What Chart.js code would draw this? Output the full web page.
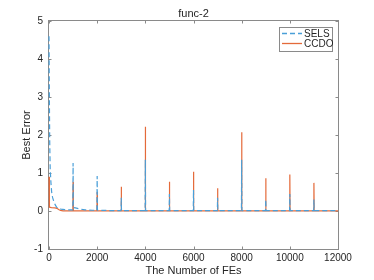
<!DOCTYPE html>
<html>
<head>
<meta charset="utf-8">
<script src="https://cdn.jsdelivr.net/npm/chart.js@4.4.1/dist/chart.umd.min.js"></script>
<style>
html,body{margin:0;padding:0;background:#fff;}
#wrap{width:374px;height:280px;}
</style>
</head>
<body>
<div id="wrap"><canvas id="c" width="374" height="280"></canvas></div>
<script>
const chartTitle = "func-2";
const xAxisTitle = "The Number of FEs";
const yAxisTitle = "Best Error";
const xTicks = [0, 2000, 4000, 6000, 8000, 10000, 12000];
const yTicks = [-1, 0, 1, 2, 3, 4, 5];
const seriesNames = ["SELS", "CCDO"];

const selsX = [0, 15, 30, 50, 80, 110, 150, 200, 260, 320, 400, 500, 650, 800, 990, 1000, 1010, 1100, 1300, 1500, 1800, 1990, 2000, 2010, 2500, 2990, 3000, 3010, 3990, 4000, 4010, 4990, 5000, 5010, 5990, 6000, 6010, 6990, 7000, 7010, 7990, 8000, 8010, 8990, 9000, 9010, 9990, 10000, 10010, 10990, 11000, 11010, 12000];
const selsY = [4.6, 3.0, 1.8, 1.1, 0.75, 0.5, 0.35, 0.25, 0.16, 0.1, 0.07, 0.05, 0.035, 0.03, 0.03, 1.26, 0.09, 0.08, 0.05, 0.03, 0.02, 0.02, 0.92, 0.02, 0.012, 0.01, 0.35, 0.01, 0.01, 1.35, 0.01, 0.01, 0.45, 0.01, 0.01, 0.55, 0.01, 0.01, 0.35, 0.01, 0.01, 1.35, 0.01, 0.01, 0.3, 0.01, 0.01, 0.45, 0.01, 0.01, 0.3, 0.01, 0.01];

const ccdoX = [0, 10, 25, 100, 250, 330, 400, 480, 580, 990, 1000, 1010, 1990, 2000, 2010, 2990, 3000, 3010, 3990, 4000, 4010, 4990, 5000, 5010, 5990, 6000, 6010, 6990, 7000, 7010, 7990, 8000, 8010, 8990, 9000, 9010, 9990, 10000, 10010, 10990, 11000, 11010, 12000];
const ccdoY = [0.9, 0.5, 0.1, 0.09, 0.08, 0.07, 0.04, 0.015, 0.003, 0.003, 0.77, 0.003, 0.002, 0.5, 0.002, 0.002, 0.64, 0.002, 0.002, 2.22, 0.002, 0.002, 0.77, 0.002, 0.002, 1.03, 0.002, 0.002, 0.6, 0.002, 0.002, 2.07, 0.002, 0.002, 0.86, 0.002, 0.002, 0.96, 0.002, 0.002, 0.74, 0.002, 0.002];

const selsColor = "#4a9fd8";
const ccdoColor = "#e46a3a";
const axisColor = "#8a8a8a";
const textColor = "#262626";
const FONT = "'Liberation Sans', Arial, sans-serif";

function toPts(xs, ys){ return xs.map((x,i)=>({x:x, y:ys[i]})); }

const matlabPlugin = {
  id: 'matlab',
  beforeDatasetsDraw(chart){
    const ctx = chart.ctx;
    const a = chart.chartArea;
    const xs = chart.scales.x, ys = chart.scales.y;
    ctx.save();
    ctx.strokeStyle = axisColor;
    ctx.lineWidth = 1;
    const L = Math.round(a.left) - 0.5, R = Math.round(a.right) + 0.5;
    const T = Math.round(a.top) - 0.5, B = Math.round(a.bottom) + 0.5;
    ctx.strokeRect(L, T, R - L, B - T);
    const tl = 3;
    ctx.beginPath();
    xTicks.forEach(v=>{
      const p = Math.round(xs.getPixelForValue(v))+0.5;
      ctx.moveTo(p, B); ctx.lineTo(p, B-tl);
      ctx.moveTo(p, T); ctx.lineTo(p, T+tl);
    });
    yTicks.forEach(v=>{
      const p = Math.round(ys.getPixelForValue(v))+0.5;
      ctx.moveTo(L, p); ctx.lineTo(L+tl, p);
      ctx.moveTo(R, p); ctx.lineTo(R-tl, p);
    });
    ctx.stroke();
    ctx.restore();
  },
  afterDraw(chart){
    const ctx = chart.ctx;
    const a = chart.chartArea;
    ctx.save();
    ctx.fillStyle = textColor;
    ctx.textAlign = 'center';
    ctx.textBaseline = 'middle';
    ctx.font = "11px " + FONT;
    const cx = (a.left + a.right)/2;
    ctx.fillText(chartTitle, cx, 13.5);
    ctx.fillText(xAxisTitle, cx, 270.5);
    ctx.save();
    ctx.translate(27, (a.top+a.bottom)/2);
    ctx.rotate(-Math.PI/2);
    ctx.fillText(yAxisTitle, 0, 0);
    ctx.restore();

    // legend
    const lx = 279.5, ly = 27.5, lw = 53, lh = 24;
    ctx.fillStyle = '#fff';
    ctx.fillRect(lx, ly, lw, lh);
    ctx.strokeStyle = '#8a8a8a';
    ctx.lineWidth = 1;
    ctx.strokeRect(lx, ly, lw, lh);
    ctx.font = "10px " + FONT;
    ctx.textAlign = 'left';
    const cols = [selsColor, ccdoColor];
    const dashes = [[5,3], []];
    seriesNames.forEach((name, i)=>{
      const yy = 33.5 + i*10;
      ctx.strokeStyle = cols[i];
      ctx.lineWidth = 1.3;
      ctx.setLineDash(dashes[i]);
      ctx.beginPath();
      ctx.moveTo(282, yy); ctx.lineTo(302, yy);
      ctx.stroke();
      ctx.setLineDash([]);
      ctx.fillStyle = textColor;
      ctx.fillText(name, 304, yy+0.5);
    });
    ctx.restore();
  }
};

new Chart(document.getElementById('c'), {
  type: 'line',
  data: {
    datasets: [
      { label: seriesNames[0], data: toPts(selsX, selsY), borderColor: selsColor, borderWidth: 1.2, borderDash: [5,3], pointRadius: 0, tension: 0, fill: false, clip: 3 },
      { label: seriesNames[1], data: toPts(ccdoX, ccdoY), borderColor: ccdoColor, borderWidth: 1.2, pointRadius: 0, tension: 0, fill: false, clip: 3 }
    ]
  },
  options: {
    responsive: false,
    animation: false,
    devicePixelRatio: 1,
    layout: { padding: { left: 0, right: 36, top: 21, bottom: 0 } },
    plugins: { legend: { display: false }, title: { display: false }, tooltip: { enabled: false } },
    scales: {
      x: {
        type: 'linear', min: 0, max: 12000,
        afterBuildTicks(s){ s.ticks = xTicks.map(v=>({value:v})); },
        afterFit(s){ s.height = 31; },
        grid: { display: false, drawTicks: false },
        border: { display: false },
        ticks: { color: textColor, font: { family: FONT, size: 10 }, padding: 3, maxRotation: 0, autoSkip: false, callback: v => String(v) }
      },
      y: {
        type: 'linear', min: -1, max: 5,
        afterBuildTicks(s){ s.ticks = yTicks.map(v=>({value:v})); },
        afterFit(s){ s.width = 49; },
        grid: { display: false, drawTicks: false },
        border: { display: false },
        ticks: { color: textColor, font: { family: FONT, size: 10 }, padding: 6, autoSkip: false, callback: v => String(v) }
      }
    }
  },
  plugins: [matlabPlugin]
});
</script>
</body>
</html>
